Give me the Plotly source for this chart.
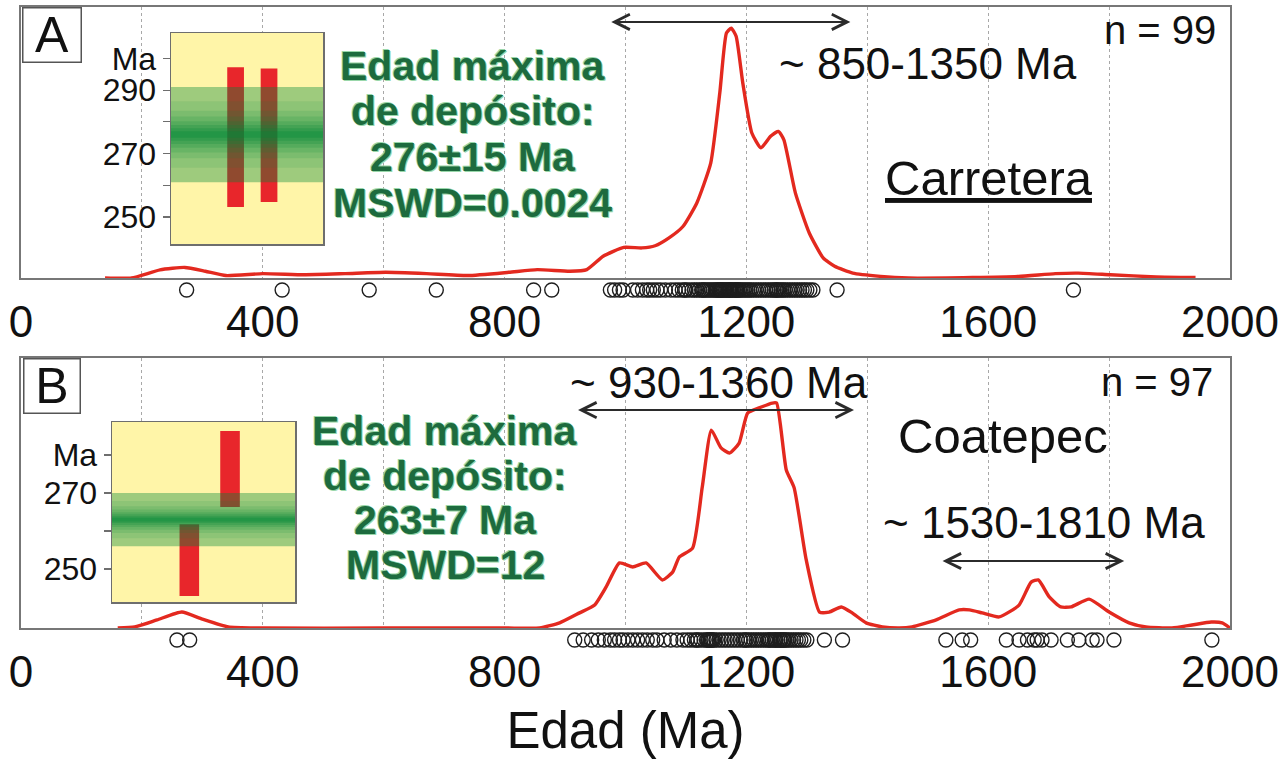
import plotly.graph_objects as go

# ---------------- data ----------------
# Panel A - Carretera: relative probability density vs age (Ma)
a_age = [139, 183, 230, 271, 305, 339, 400, 468, 536, 603, 671, 739, 807, 854, 908, 936, 963, 997,
         1027, 1049, 1072, 1095, 1118, 1141, 1156, 1167, 1175, 1183, 1194, 1209, 1224, 1240, 1253,
         1262, 1281, 1304, 1327, 1346, 1376, 1422, 1468, 1574, 1650, 1711, 1749, 1802, 1878, 1943]
a_dens = [0, 0, 0.03, 0.039, 0.025, 0.009, 0.016, 0.012, 0.016, 0.021, 0.016, 0.009, 0.021, 0.031,
          0.025, 0.031, 0.08, 0.113, 0.111, 0.119, 0.148, 0.19, 0.277, 0.424, 0.683, 0.904, 0.922,
          0.892, 0.72, 0.535, 0.48, 0.523, 0.541, 0.51, 0.314, 0.166, 0.074, 0.043, 0.018, 0.006,
          0, 0.002, 0.006, 0.016, 0.018, 0.012, 0.004, 0.002]
# Panel A individual zircon ages (n = 99)
a_grains = [274, 432, 576, 687, 848, 878,
            975, 982, 990, 996, 1012, 1020, 1028, 1035, 1040, 1046, 1052, 1058, 1066, 1075, 1082,
            1088, 1094, 1098, 1100, 1105, 1110, 1114, 1118, 1122, 1126, 1128, 1130, 1133, 1136,
            1139, 1142, 1145, 1148, 1150, 1152, 1154, 1156, 1157, 1158, 1160, 1162, 1164, 1166,
            1168, 1170, 1172, 1173, 1174, 1176, 1178, 1180, 1182, 1184, 1185, 1186, 1188, 1190,
            1193, 1196, 1199, 1202, 1205, 1208, 1212, 1216, 1220, 1224, 1228, 1232, 1236, 1240,
            1243, 1246, 1249, 1250, 1252, 1255, 1258, 1261, 1264, 1268, 1272, 1276, 1280, 1284,
            1288, 1292, 1296, 1300, 1305, 1310,
            1350, 1741]

# Panel B - Coatepec
b_age = [160, 188, 225, 266, 300, 343, 400, 600, 800, 858, 891, 924, 949, 968, 990, 1012, 1034,
         1061, 1078, 1089, 1111, 1127, 1142, 1158, 1172, 1188, 1202, 1221, 1243, 1250, 1266, 1279,
         1299, 1321, 1337, 1357, 1375, 1398, 1425, 1453, 1474, 1514, 1552, 1569, 1590, 1618, 1651,
         1671, 1683, 1701, 1720, 1737, 1767, 1800, 1833, 1861, 1904, 1937, 1969, 1987, 2000]
b_dens = [0, 0.004, 0.03, 0.059, 0.033, 0.004, 0, 0, 0, 0, 0.019, 0.056, 0.085, 0.152, 0.241,
          0.226, 0.241, 0.178, 0.207, 0.263, 0.296, 0.522, 0.733, 0.667, 0.648, 0.685, 0.796,
          0.815, 0.833, 0.833, 0.585, 0.519, 0.252, 0.059, 0.059, 0.078, 0.056, 0.019, 0.004, 0,
          0.004, 0.030, 0.067, 0.067, 0.056, 0.041, 0.085, 0.170, 0.178, 0.115, 0.078, 0.078,
          0.107, 0.059, 0.019, 0.004, 0, 0.011, 0.022, 0.019, 0]
# Panel B individual zircon ages (n = 97)
b_grains = [258, 279,
            916, 930, 944, 955, 965, 975, 982, 990, 996, 1004, 1012, 1020, 1028, 1036, 1045, 1052,
            1064, 1075, 1085, 1095, 1102, 1108, 1114, 1118, 1120, 1125, 1130, 1134, 1136, 1138,
            1140, 1142, 1144, 1146, 1150, 1155, 1160, 1165, 1170, 1175, 1180, 1185, 1190, 1195,
            1198, 1200, 1204, 1208, 1212, 1216, 1220, 1224, 1228, 1232, 1236, 1238, 1240, 1243,
            1246, 1248, 1249, 1252, 1255, 1256, 1258, 1261, 1262, 1264, 1267, 1270, 1274, 1278,
            1282, 1286, 1290, 1295, 1300, 1329, 1359,
            1530, 1557, 1571, 1630, 1651, 1665, 1676, 1681, 1689, 1704, 1731, 1750, 1772, 1780,
            1808, 1970]

x_ticks = [0, 400, 800, 1200, 1600, 2000]
x_ticktext = ["0", "400", "800", "1200", "1600", "2000"]

# Insets: weighted mean of youngest grains (maximum depositional age)
insA_ticks = [250, 260, 270, 280, 290, 300]
insA_text = ["250", "", "270", "", "290", "Ma"]
insA_range = [241.5, 308]
a_mda, a_mda_err = 276, 15
a_gr_low = [253.2, 254.7]
a_gr_high = [297.2, 296.8]

insB_ticks = [250, 260, 270, 280]
insB_text = ["250", "", "270", "Ma"]
insB_range = [241.3, 288.7]
b_mda, b_mda_err = 263, 7
b_gr_low = [242.9, 266.3]
b_gr_high = [261.8, 286.3]

# ---------------- layout helpers ----------------
FONT = "Liberation Sans, Arial, Helvetica, sans-serif"
W, H = 1280, 759
ML, MR, MT, MB = 21, 50, 7, 105
PW, PH = W - ML - MR, H - MT - MB


def P(x, y):
    return (x - ML) / PW, (H - MB - y) / PH


def ydom(y_top_px, y_bot_px):
    return [max(0.0, P(0, y_bot_px)[1]), min(1.0, P(0, y_top_px)[1])]


RED = "#e3291f"
FRAME = "#777777"
GRID = "#a8a8a8"
GREEN_TXT = "#1d6b3e"

fig = go.Figure()

# density curves
fig.add_trace(go.Scatter(x=a_age, y=a_dens, mode="lines", xaxis="x", yaxis="y",
                         line=dict(color=RED, width=3.4, shape="spline", smoothing=0.5),
                         showlegend=False, hoverinfo="skip"))
fig.add_trace(go.Scatter(x=b_age, y=b_dens, mode="lines", xaxis="x2", yaxis="y2",
                         line=dict(color=RED, width=3.4, shape="spline", smoothing=0.5),
                         showlegend=False, hoverinfo="skip"))

# individual ages (open circles in a strip below each panel)
circ = dict(symbol="circle-open", size=14, color="#1e1e1e", line=dict(width=1.4))
fig.add_trace(go.Scatter(x=a_grains, y=[0] * len(a_grains), mode="markers", xaxis="x5", yaxis="y5",
                         marker=circ, cliponaxis=False, showlegend=False, hoverinfo="skip"))
fig.add_trace(go.Scatter(x=b_grains, y=[0] * len(b_grains), mode="markers", xaxis="x6", yaxis="y6",
                         marker=circ, cliponaxis=False, showlegend=False, hoverinfo="skip"))

# ---------------- insets ----------------
band_frac = [1.0, 0.7, 0.5, 0.38, 0.28, 0.2, 0.13, 0.07]
band_alpha = [0.38, 0.1, 0.12, 0.15, 0.18, 0.2, 0.25, 0.3]


def add_inset(xa, ya, low, high, xpos, bw, mda, err):
    fig.add_trace(go.Bar(x=xpos, y=[h - l for l, h in zip(low, high)], base=low, width=bw,
                         marker=dict(color="#e8262b", line=dict(width=0)),
                         xaxis=xa, yaxis=ya, showlegend=False, hoverinfo="skip"))
    for f, a in zip(band_frac, band_alpha):
        lo, hi = mda - f * err, mda + f * err
        fig.add_trace(go.Scatter(x=[0, 1, 1, 0, 0], y=[lo, lo, hi, hi, lo], mode="lines",
                                 fill="toself", fillcolor=f"rgba(0,135,55,{a})",
                                 line=dict(width=0), xaxis=xa, yaxis=ya,
                                 showlegend=False, hoverinfo="skip"))


add_inset("x3", "y3", a_gr_low, a_gr_high, [0.425, 0.645], 0.11, a_mda, a_mda_err)
add_inset("x4", "y4", b_gr_low, b_gr_high, [0.4225, 0.645], 0.107, b_mda, b_mda_err)

shapes = []
for xr, yr, rng in [("x3", "y3", insA_range), ("x4", "y4", insB_range)]:
    shapes.append(dict(type="rect", xref=xr, yref=yr, x0=0, x1=1, y0=rng[0], y1=rng[1],
                       fillcolor="#fff5a8", line=dict(width=0), layer="below"))

# ---------------- axes ----------------
main_x = dict(range=[0, 2000], tickvals=x_ticks, ticktext=x_ticktext, ticks="outside", ticklen=4,
              tickcolor="rgba(0,0,0,0)", tickfont=dict(size=44, color="#111", family=FONT),
              showline=True, mirror=True, linecolor=FRAME, linewidth=2,
              showgrid=True, gridcolor=GRID, griddash="dot", gridwidth=1, zeroline=False,
              minor=dict(dtick=200, showgrid=True, gridcolor=GRID, griddash="dot", gridwidth=1,
                         ticks=""),
              automargin=False, fixedrange=True)
main_y = dict(range=[0, 1], showline=True, mirror=True, linecolor=FRAME, linewidth=2,
              showticklabels=False, ticks="", showgrid=False, zeroline=False,
              automargin=False, fixedrange=True)


def inset_dom(x0, x1, y0, y1):
    return [P(x0, 0)[0], P(x1, 0)[0]], ydom(y0, y1)


a_xd, a_yd = inset_dom(171, 323, 33, 244)
b_xd, b_yd = inset_dom(112, 295, 422, 602)

inset_x = dict(range=[0, 1], showline=True, mirror=True, linecolor="#6e6e6e", linewidth=1.5,
               showticklabels=False, ticks="", showgrid=False, zeroline=False,
               automargin=False, fixedrange=True)


def inset_y(rng, tv, tt):
    return dict(range=rng, tickvals=tv, ticktext=tt, ticks="outside", ticklen=7,
                tickcolor="#6e6e6e", tickwidth=1.2,
                tickfont=dict(size=32, color="#111", family=FONT),
                showline=True, mirror=True, linecolor="#6e6e6e", linewidth=1.5,
                showgrid=False, zeroline=False, automargin=False, fixedrange=True)


strip_x = dict(range=[0, 2000], domain=[0, 1], visible=False, fixedrange=True)
strip_y = dict(range=[-1, 1], visible=False, fixedrange=True)

# ---------------- annotations ----------------
ann = []


def text(x, y, s, size, color="#111", **kw):
    px, py = P(x, y)
    fk = kw.pop("fontkw", {})
    ann.append(dict(xref="paper", yref="paper", x=px, y=py, text=s, showarrow=False,
                    xanchor="center", yanchor="middle",
                    font=dict(size=size, color=color, family=FONT, **fk), **kw))


# panel letters
text(52, 35, "A", 50, bgcolor="white", bordercolor="#555", borderwidth=1.5, borderpad=0,
     width=57, height=53)
text(52, 386, "B", 50, bgcolor="white", bordercolor="#555", borderwidth=1.5, borderpad=0,
     width=55, height=53)

text(1160, 30, "n = 99", 40)
text(1157, 382, "n = 97", 40)
text(928, 63, "~ 850-1350 Ma", 44)
text(719, 382, "~ 930-1360 Ma", 44)
text(1044, 522, "~ 1530-1810 Ma", 44)
text(989, 178, "<u>Carretera</u>", 49)
text(1003, 436, "Coatepec", 49)

greenA = ["Edad máxima", "de depósito:", "276±15 Ma", "MSWD=0.0024"]
greenB = ["Edad máxima", "de depósito:", "263±7 Ma", "MSWD=12"]
shadow = "0 0 1px #9ad8aa, 1px 1px 0px #9ad8aa, -1px -1px 0px #9ad8aa"
for s, yy in zip(greenA, [66, 111, 157, 203]):
    text(473, yy, s, 41, GREEN_TXT, fontkw=dict(weight=700, shadow=shadow))
for s, yy in zip(greenB, [431, 476, 520, 565]):
    text(445, yy, s, 41, GREEN_TXT, fontkw=dict(weight=700, shadow=shadow))

# double-headed arrows (age ranges)
for xr, yr, x0, x1, yv in [("x", "y", 974, 1372, 0.945),
                           ("x2", "y2", 919, 1378, 0.807),
                           ("x2", "y2", 1522, 1825, 0.248)]:
    ann.append(dict(xref=xr, yref=yr, axref=xr, ayref=yr, x=x1, y=yv, ax=x0, ay=yv, text="",
                    showarrow=True, arrowside="end+start", arrowhead=5, startarrowhead=5,
                    arrowsize=1.5, startarrowsize=1.5, arrowwidth=2, arrowcolor="#2b2b2b",
                    standoff=0, startstandoff=0))

xaxis2 = dict(main_x)
xaxis2.update(anchor="y2", title=dict(text="Edad (Ma)", font=dict(size=51, color="#111", family=FONT),
                                      standoff=26))

fig.update_layout(
    width=W, height=H, margin=dict(l=ML, r=MR, t=MT, b=MB, pad=0),
    paper_bgcolor="white", plot_bgcolor="white",
    font=dict(family=FONT, color="#111"),
    showlegend=False, barmode="overlay",
    xaxis=dict(main_x, anchor="y"),
    yaxis=dict(main_y, domain=ydom(7, 278), anchor="x"),
    xaxis2=xaxis2,
    yaxis2=dict(main_y, domain=ydom(358, 628), anchor="x2"),
    xaxis3=dict(inset_x, domain=a_xd, anchor="y3"),
    yaxis3=dict(inset_y(insA_range, insA_ticks, insA_text), domain=a_yd, anchor="x3"),
    xaxis4=dict(inset_x, domain=b_xd, anchor="y4"),
    yaxis4=dict(inset_y(insB_range, insB_ticks, insB_text), domain=b_yd, anchor="x4"),
    xaxis5=dict(strip_x, anchor="y5"),
    yaxis5=dict(strip_y, domain=ydom(281, 299), anchor="x5"),
    xaxis6=dict(strip_x, anchor="y6"),
    yaxis6=dict(strip_y, domain=ydom(631, 649), anchor="x6"),
    shapes=shapes,
    annotations=ann,
)

fig.write_html("out.html", config={"displayModeBar": False, "staticPlot": True},
               post_script="document.body.style.margin='0px';")
